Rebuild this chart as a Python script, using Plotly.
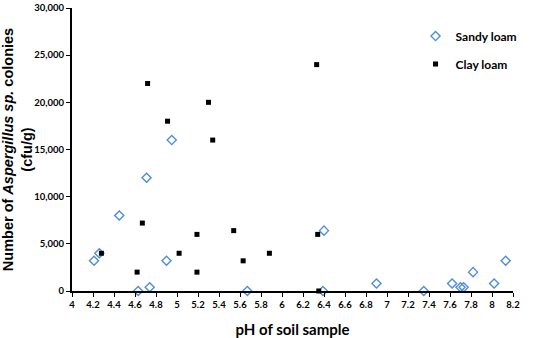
import plotly.graph_objects as go

sandy_ph = [4.21, 4.26, 4.45, 4.63, 4.71, 4.74, 4.90, 4.95, 5.67, 6.39, 6.40, 6.90, 7.35, 7.62, 7.70, 7.73, 7.82, 8.02, 8.13]
sandy_cfu = [3200, 4000, 8000, 0, 12000, 400, 3200, 16000, 0, 0, 6400, 800, 0, 800, 400, 400, 2000, 800, 3200]

clay_ph = [4.28, 4.62, 4.67, 4.72, 4.91, 5.02, 5.19, 5.19, 5.30, 5.34, 5.54, 5.63, 5.88, 6.33, 6.34, 6.35]
clay_cfu = [4000, 2000, 7200, 22000, 18000, 4000, 6000, 2000, 20000, 16000, 6400, 3200, 4000, 24000, 6000, 0]

x_ticks = [round(4 + 0.2 * i, 1) for i in range(22)]
x_tick_labels = [("%g" % v) for v in x_ticks]
y_ticks = [0, 5000, 10000, 15000, 20000, 25000, 30000]

FONT = "Lato"

fig = go.Figure()
fig.add_trace(go.Scatter(
    x=sandy_ph, y=sandy_cfu, mode="markers", name="Sandy loam", legendgroup="a",
    marker=dict(symbol="diamond-open", size=7, color="#4F8FD9", line=dict(width=1.4, color="#4F8FD9")),
    cliponaxis=False,
))
fig.add_trace(go.Scatter(
    x=clay_ph, y=clay_cfu, mode="markers", name="Clay loam", legendgroup="b",
    marker=dict(symbol="square", size=5, color="black"),
    cliponaxis=False,
))

fig.update_layout(
    width=550, height=338,
    margin=dict(l=72, r=37, t=8, b=47),
    paper_bgcolor="white", plot_bgcolor="white",
    font=dict(family=FONT, color="black"),
    showlegend=True,
    legend=dict(x=0.779, y=0.952, xanchor="left", yanchor="top",
                font=dict(family=FONT, size=12, color="black", weight="bold"),
                tracegroupgap=9, itemwidth=30, bgcolor="rgba(0,0,0,0)"),
)
fig.update_xaxes(
    range=[4, 8.2], tickvals=x_ticks, ticktext=x_tick_labels, automargin=False,
    showgrid=False, zeroline=False, showline=True, linecolor="black", linewidth=2,
    ticks="outside", ticklen=4, tickwidth=1, tickcolor="black",
    tickfont=dict(family=FONT, size=9.5, color="black", weight="bold"),
    title=dict(text="pH of soil sample", font=dict(family=FONT, size=15, color="black", weight="bold"), standoff=15),
)
fig.update_yaxes(
    range=[0, 30000], tickvals=y_ticks, tickformat=",", automargin=False,
    showgrid=False, zeroline=False, showline=True, linecolor="black", linewidth=2,
    ticks="outside", ticklen=4, tickwidth=1, tickcolor="black",
    tickfont=dict(family=FONT, size=9.5, color="black", weight="bold"),
    title=dict(text="Number of <i>Aspergillus sp.</i> colonies<br>(cfu/g)",
               font=dict(family="Liberation Sans", size=14.5, color="black", weight="bold"), standoff=0),
)

fig.write_html("out.html", config={"displayModeBar": False},
               post_script="document.body.style.margin='0';")
